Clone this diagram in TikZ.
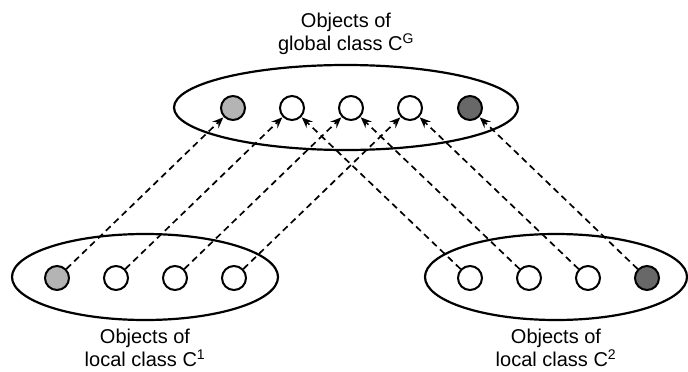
\documentclass[tikz,border=0pt]{standalone}
\usepackage{fontspec}
\setmainfont{Liberation Sans}
\usetikzlibrary{arrows.meta,shapes.geometric}
\definecolor{lightobj}{HTML}{B4B4B4}
\definecolor{darkobj}{HTML}{686868}
\tikzset{
  group/.style={draw, line width=2.2pt, ellipse, inner sep=0pt},
  obj/.style={draw, line width=2pt, circle, minimum size=24pt, inner sep=0pt, fill=white},
  lightfill/.style={fill=lightobj},
  darkfill/.style={fill=darkobj},
  mapsto/.style={line width=1.7pt, dash pattern=on 6.5pt off 4.5pt,
    -{Stealth[length=11pt, width=9pt, inset=4pt]}, shorten >=0.5pt},
  caption/.style={align=center, font=\fontsize{20}{23}\selectfont, inner sep=0pt}
}
\begin{document}
\begin{tikzpicture}[x=1pt, y=-1pt]
  \useasboundingbox (0,0) rectangle (688,372);

  % the three classes
  \node[group, minimum width=344pt, minimum height=85pt] (G) at (346,107.5) {};
  \node[group, minimum width=266pt, minimum height=86pt] (L1) at (145,277) {};
  \node[group, minimum width=262pt, minimum height=86pt] (L2) at (556,277) {};

  % objects of the global class
  \node[obj, lightfill] (g1) at (233,108) {};
  \node[obj] (g2) at (292,108) {};
  \node[obj] (g3) at (351,108) {};
  \node[obj] (g4) at (410,108) {};
  \node[obj, darkfill] (g5) at (470,108) {};

  % objects of local class 1
  \node[obj, lightfill] (a1) at (57,278) {};
  \node[obj] (a2) at (116,278) {};
  \node[obj] (a3) at (175,278) {};
  \node[obj] (a4) at (234,278) {};

  % objects of local class 2
  \node[obj] (b1) at (470,278) {};
  \node[obj] (b2) at (529,278) {};
  \node[obj] (b3) at (588,278) {};
  \node[obj, darkfill] (b4) at (647,278) {};

  % mappings onto the global objects
  \draw[mapsto] (a1) -- (g1);
  \draw[mapsto] (a2) -- (g2);
  \draw[mapsto] (a3) -- (g3);
  \draw[mapsto] (a4) -- (g4);
  \draw[mapsto] (b1) -- (g2);
  \draw[mapsto] (b2) -- (g3);
  \draw[mapsto] (b3) -- (g4);
  \draw[mapsto] (b4) -- (g5);

  % captions
  \node[caption] (tG) at (346,34) {Objects of\\global class C\textsuperscript{G}};
  \node[caption] (t1) at (145,348) {Objects of\\local class C\textsuperscript{1}};
  \node[caption] (t2) at (556,348) {Objects of\\local class C\textsuperscript{2}};
\end{tikzpicture}
\end{document}
